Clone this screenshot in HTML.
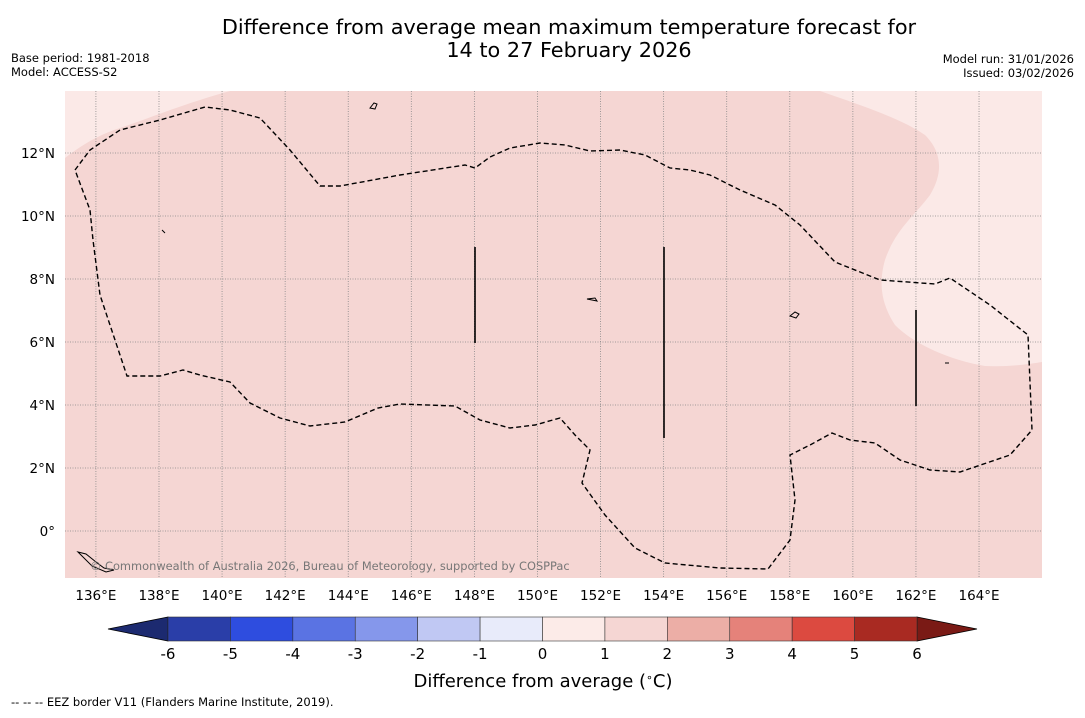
<!DOCTYPE html>
<html><head><meta charset="utf-8"><style>
body{margin:0;background:#fff;font-family:"Liberation Sans","DejaVu Sans",sans-serif;}
</style></head><body>
<svg width="1085" height="713" viewBox="0 0 1085 713" xmlns="http://www.w3.org/2000/svg" font-family="DejaVu Sans, Liberation Sans, sans-serif">
<g>
<text x="569" y="34" font-size="20.8" text-anchor="middle">Difference from average mean maximum temperature forecast for</text>
<text x="569" y="57" font-size="20.8" text-anchor="middle">14 to 27 February 2026</text>
</g>
<text x="11" y="62" font-size="11.5">Base period: 1981-2018</text>
<text x="11" y="76" font-size="11.5">Model: ACCESS-S2</text>
<text x="1074" y="63" font-size="11.5" text-anchor="end">Model run: 31/01/2026</text>
<text x="1074" y="77" font-size="11.5" text-anchor="end">Issued: 03/02/2026</text>

<g>
<rect x="65" y="91" width="977" height="487" fill="#f5d6d3"/>
<path d="M65,91 L230,91 C180,105 150,118 120,128 C95,136 78,148 65,158 Z" fill="#fbe9e7"/>
<path d="M820,91 C860,105 900,118 925,135 C940,150 945,170 930,195 C915,215 895,230 885,260 C878,285 882,305 895,325 C915,345 950,360 985,366 C1010,367 1030,364 1042,362 L1042,91 Z" fill="#fbe9e7"/>
<g id="grid" stroke="#888" stroke-width="0.8" stroke-dasharray="1,1.5" fill="none"></g>
<polyline fill="none" stroke="#000" stroke-width="1.4" stroke-dasharray="5,3" points="75,170 90,150 120,130 160,120 205,107 230,110 260,118 290,150 320,186 340,186 400,175 465,165 475,168 490,157 510,148 540,143 565,145 590,151 620,150 645,155 670,168 690,170 710,175 740,190 775,205 800,225 835,262 880,280 935,284 950,278 990,305 1028,335 1032,430 1010,455 960,472 930,470 900,460 875,443 850,440 832,433 810,445 790,455 795,500 790,540 768,569 720,568 665,563 635,548 605,515 582,483 590,450 575,435 560,418 535,425 510,428 480,420 455,406 400,404 378,408 345,422 310,426 280,418 250,403 230,382 200,375 183,370 160,376 127,376 100,295 93,240 90,210 75,170"/>
<g stroke="#000" stroke-width="1.6">
<line x1="475" y1="247" x2="475" y2="343"/>
<line x1="664" y1="247" x2="664" y2="438"/>
<line x1="916" y1="310" x2="916" y2="406"/>
</g>
<g fill="none" stroke="#000" stroke-width="1">
<path d="M370,108 l4,-5 3,1 -2,5 z"/><path d="M790,316 l5,-4 4,2 -3,4 z"/><path d="M587,299 l8,-1 2,3 z"/>
<path d="M78,552 l8,2 10,8 8,6 10,2 -8,2 -14,-6 z"/><path d="M162,230 l3,3"/><path d="M945,363 l4,0"/>
</g>
<text x="90" y="570" font-size="11.4" fill="#777">© Commonwealth of Australia 2026, Bureau of Meteorology, supported by COSPPac</text>
</g>
<g id="xlabels" font-size="13.5" text-anchor="middle"></g>
<g id="ylabels" font-size="13.5" text-anchor="end"></g>

<g>
<polygon points="168,617 108,629 168,641" fill="#1c2a70" stroke="#000" stroke-width="0.8"/>
<polygon points="917,617 977,629 917,641" fill="#7a1a15" stroke="#000" stroke-width="0.8"/>
<g id="cbar"></g>
<text x="543" y="687" font-size="18" text-anchor="middle">Difference from average (<tspan font-size="11" dy="-6">∘</tspan><tspan dy="6">C)</tspan></text>
</g>
<text x="11" y="706" font-size="11.5">--  --  -- EEZ border V11 (Flanders Marine Institute, 2019).</text>
</svg>
<script>
const lonTicks=[136,138,140,142,144,146,148,150,152,154,156,158,160,162,164];
const latTicks=[0,2,4,6,8,10,12];
const cbarTicks=[-6,-5,-4,-3,-2,-1,0,1,2,3,4,5,6];
const cbarColors=["#2a3ea8","#2e4ddf","#5a73e3","#8597eb","#c0c8f3","#e8ebfa","#fcebe8","#f5d6d3","#ecaea6","#e5827a","#dc4a40","#a92a22"];
const NS="http://www.w3.org/2000/svg";
const x=lon=>65+(lon-135.02)*31.54;
const y=lat=>531-lat*31.5;
const cx=v=>168+(v+6)*(749/12);
const grid=document.getElementById('grid'),xl=document.getElementById('xlabels'),yl=document.getElementById('ylabels'),cb=document.getElementById('cbar');
lonTicks.forEach(l=>{
 const ln=document.createElementNS(NS,'line');ln.setAttribute('x1',x(l));ln.setAttribute('x2',x(l));ln.setAttribute('y1',91);ln.setAttribute('y2',578);
 
 
 grid.appendChild(ln);
 const t=document.createElementNS(NS,'text');t.setAttribute('x',x(l));t.setAttribute('y',600);t.textContent=l+'°E';
 
 
 xl.appendChild(t);
});
latTicks.forEach(l=>{
 const ln=document.createElementNS(NS,'line');ln.setAttribute('x1',65);ln.setAttribute('x2',1042);ln.setAttribute('y1',y(l));ln.setAttribute('y2',y(l));
 
 
 grid.appendChild(ln);
 const t=document.createElementNS(NS,'text');t.setAttribute('x',55);t.setAttribute('y',y(l)+5);t.textContent=l===0?'0°':l+'°N';
 
 
 yl.appendChild(t);
});
cbarColors.forEach((c,i)=>{
 const r=document.createElementNS(NS,'rect');r.setAttribute('x',cx(cbarTicks[i]));r.setAttribute('y',617);r.setAttribute('width',cx(cbarTicks[i+1])-cx(cbarTicks[i]));r.setAttribute('height',24);
 r.setAttribute('fill',c);r.setAttribute('stroke','#333');r.setAttribute('stroke-width','0.6');
 
 
 cb.appendChild(r);
});
cbarTicks.forEach(v=>{
 const t=document.createElementNS(NS,'text');t.setAttribute('x',cx(v));t.setAttribute('y',659);t.setAttribute('font-size','15');t.setAttribute('text-anchor','middle');t.textContent=v;
 
 
 cb.appendChild(t);
});
</script>
</body></html>
